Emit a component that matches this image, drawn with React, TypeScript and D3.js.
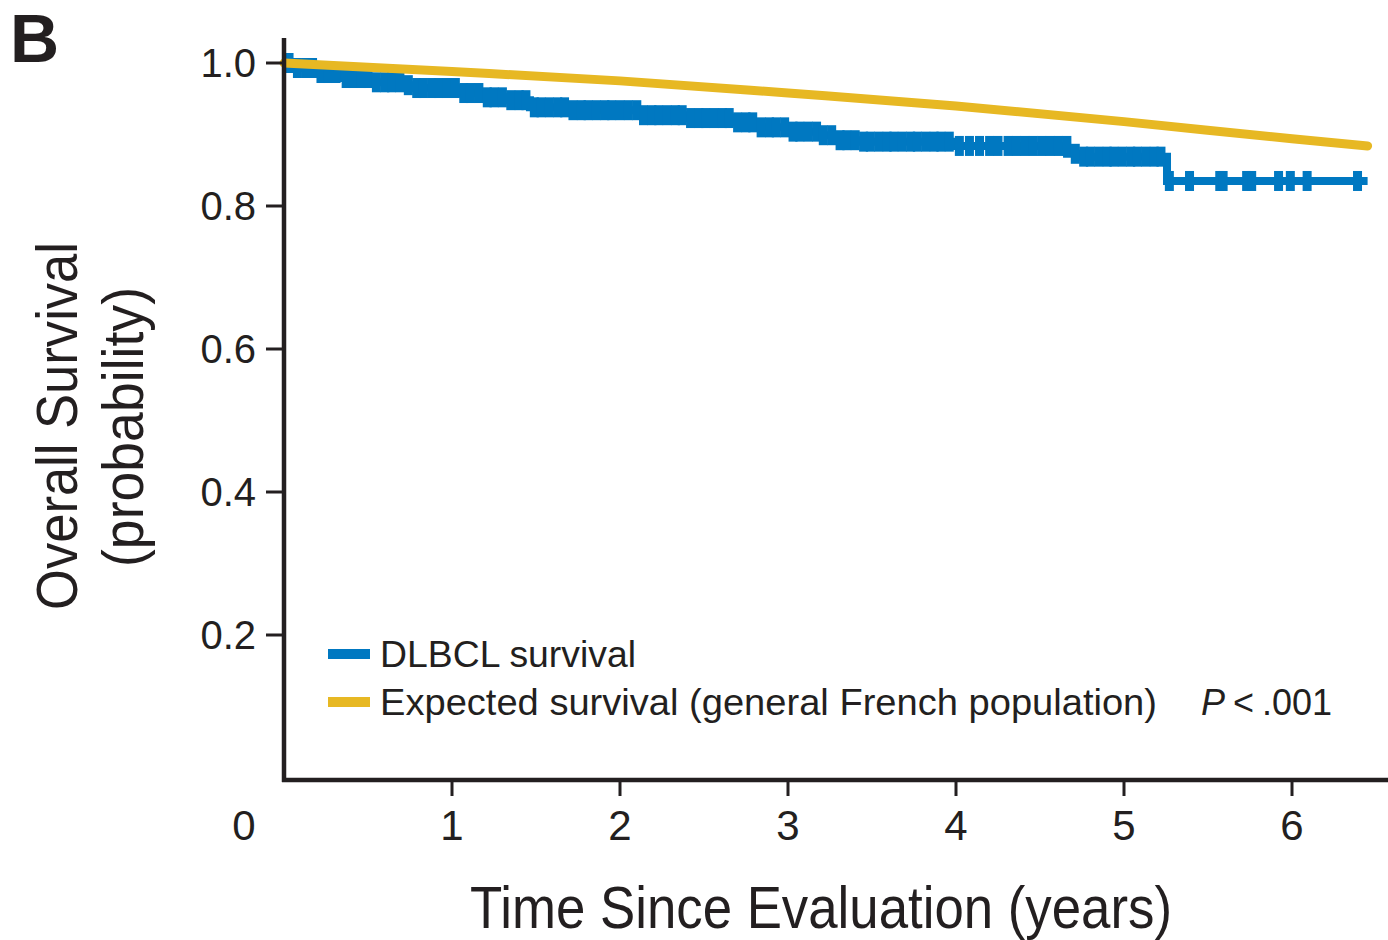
import * as d3 from "d3";
import React from "react";

// Kaplan-Meier steps for the DLBCL cohort (time in years, survival probability)
const kmTimes = [0, 0.065, 0.214, 0.351, 0.512, 0.708, 0.768, 1.048, 1.185, 1.327, 1.464, 1.72, 2.101, 2.375, 2.673, 2.833, 3.03, 3.19, 3.268, 3.429, 3.982, 4.661, 4.72, 5.256];
const kmValues = [1.0, 0.993, 0.986, 0.979, 0.973, 0.969, 0.965, 0.958, 0.952, 0.948, 0.938, 0.934, 0.927, 0.923, 0.917, 0.91, 0.904, 0.899, 0.892, 0.89, 0.884, 0.873, 0.869, 0.835];
const kmEnd = 6.45;

// censored observations (tick marks)
const censorTimes = [
  0.03, 0.08, 0.13, 0.17, 0.22, 0.26, 0.31, 0.37, 0.41, 0.46, 0.5, 0.55, 0.6, 0.64, 0.69, 0.74, 0.79, 0.83,
  0.88, 0.92, 0.97, 1.02, 1.07, 1.11, 1.16, 1.21, 1.25, 1.3, 1.35, 1.4, 1.44, 1.49, 1.53, 1.58, 1.63, 1.67,
  1.72, 1.77, 1.81, 1.86, 1.91, 1.95, 2.0, 2.05, 2.1, 2.14, 2.19, 2.23, 2.28, 2.33, 2.37, 2.42, 2.47, 2.51,
  2.56, 2.61, 2.65, 2.7, 2.75, 2.79, 2.84, 2.89, 2.93, 2.98, 3.03, 3.07, 3.12, 3.17, 3.21, 3.26, 3.31, 3.35,
  3.4, 3.45, 3.49, 3.54, 3.59, 3.63, 3.68, 3.73, 3.77, 3.82, 3.87, 3.91, 3.96, 4.02, 4.08, 4.14, 4.2, 4.25,
  4.31, 4.36, 4.41, 4.46, 4.51, 4.56, 4.61, 4.66, 4.71, 4.76, 4.8, 4.85, 4.9, 4.94, 4.99, 5.04, 5.08, 5.13,
  5.18, 5.22, 5.27, 5.39, 5.57, 5.59, 5.73, 5.76, 5.92, 5.99, 6.09, 6.39,
];

// expected survival of the general French population
const expTimes = [0, 1, 2, 3, 4, 5, 6, 6.45];
const expValues = [1.0, 0.988, 0.975, 0.958, 0.94, 0.918, 0.894, 0.884];

const xTicks = [1, 2, 3, 4, 5, 6];
const yTicks = [0.2, 0.4, 0.6, 0.8, 1.0];

const legendLabels = ["DLBCL survival", "Expected survival (general French population)"];
const legendWidths = [256, 777];
const pText = ".001";

const BLUE = "#0078C1";
const YELLOW = "#E7B823";
const INK = "#231F20";

export default function App() {
  const width = 1388;
  const height = 940;

  const x = d3.scaleLinear().domain([0, 6]).range([284, 1292]);
  const y = d3.scaleLinear().domain([0, 1]).range([778, 63]);

  const kmPts: [number, number][] = kmTimes.map((t, i) => [t, kmValues[i]]);
  kmPts.push([kmEnd, kmValues[kmValues.length - 1]]);

  const stepLine = d3
    .line<[number, number]>()
    .x((d) => x(d[0]))
    .y((d) => y(d[1]))
    .curve(d3.curveStepAfter);

  const expLine = d3
    .line<[number, number]>()
    .x((d) => x(d[0]))
    .y((d) => y(d[1]))
    .curve(d3.curveMonotoneX);

  const survAt = (t: number) => kmValues[Math.max(0, d3.bisectRight(kmTimes, t) - 1)];

  const axisY = 780;
  const font = "'Liberation Sans', Arial, Helvetica, sans-serif";
  const narrow = "'Liberation Sans Narrow', 'Liberation Sans', Arial, sans-serif";

  return (
    <svg
      width={width}
      height={height}
      viewBox={`0 0 ${width} ${height}`}
      style={{ position: "absolute", left: 0, top: 0, background: "#fff" }}
    >
      <rect width={width} height={height} fill="#fff" />

      {/* panel letter */}
      <text x={10} y={62} fontFamily={font} fontWeight="bold" fontSize={68} fill={INK}>
        B
      </text>

      {/* KM step curve */}
      <path d={stepLine(kmPts) ?? ""} fill="none" stroke={BLUE} strokeWidth={8} />
      {censorTimes.map((t, i) => (
        <rect key={i} x={x(t) - 4.5} y={y(survAt(t)) - 10} width={9} height={20} fill={BLUE} />
      ))}

      {/* expected survival */}
      <path
        d={expLine(expTimes.map((t, i) => [t, expValues[i]] as [number, number])) ?? ""}
        fill="none"
        stroke={YELLOW}
        strokeWidth={9}
        strokeLinecap="round"
      />

      {/* y axis */}
      <line x1={x(0)} x2={x(0)} y1={38} y2={axisY + 2} stroke={INK} strokeWidth={4.5} />
      {yTicks.map((v) => (
        <g key={v}>
          <line x1={x(0) - 18} x2={x(0)} y1={y(v)} y2={y(v)} stroke={INK} strokeWidth={3} />
          <text x={256} y={y(v) + 14} textAnchor="end" fontFamily={font} fontSize={40} fill={INK}>
            {v.toFixed(1)}
          </text>
        </g>
      ))}

      {/* x axis */}
      <line x1={x(0) - 2} x2={width} y1={axisY} y2={axisY} stroke={INK} strokeWidth={4.5} />
      {xTicks.map((v) => (
        <g key={v}>
          <line x1={x(v)} x2={x(v)} y1={axisY} y2={axisY + 16} stroke={INK} strokeWidth={3} />
          <text x={x(v)} y={840} textAnchor="middle" fontFamily={font} fontSize={42} fill={INK}>
            {v}
          </text>
        </g>
      ))}
      <text x={x(0) - 40} y={840} textAnchor="middle" fontFamily={font} fontSize={42} fill={INK}>
        0
      </text>

      {/* axis titles */}
      <text
        x={470}
        y={928}
        fontFamily={narrow}
        fontSize={60}
        fill={INK}
        textLength={702}
        lengthAdjust="spacingAndGlyphs"
      >
        Time Since Evaluation (years)
      </text>
      <text
        transform="translate(77,426) rotate(-90)"
        textAnchor="middle"
        fontFamily={narrow}
        fontSize={58}
        fill={INK}
        textLength={368}
        lengthAdjust="spacingAndGlyphs"
      >
        Overall Survival
      </text>
      <text
        transform="translate(143,427) rotate(-90)"
        textAnchor="middle"
        fontFamily={narrow}
        fontSize={58}
        fill={INK}
        textLength={280}
        lengthAdjust="spacingAndGlyphs"
      >
        (probability)
      </text>

      {/* legend */}
      {legendLabels.map((label, i) => (
        <g key={label} transform={`translate(328,${654 + i * 48})`}>
          <rect x={0} y={-5} width={42} height={10} fill={i === 0 ? BLUE : YELLOW} />
          <text
            x={52}
            y={13}
            fontFamily={font}
            fontSize={36}
            fill={INK}
            textLength={legendWidths[i]}
            lengthAdjust="spacingAndGlyphs"
          >
            {label}
          </text>
        </g>
      ))}
      <text x={1201} y={715} fontFamily={font} fontSize={36} fill={INK}>
        <tspan fontStyle="italic">P</tspan>
        <tspan dx={8}>&lt;</tspan>
        <tspan dx={8}>{pText}</tspan>
      </text>
    </svg>
  );
}
